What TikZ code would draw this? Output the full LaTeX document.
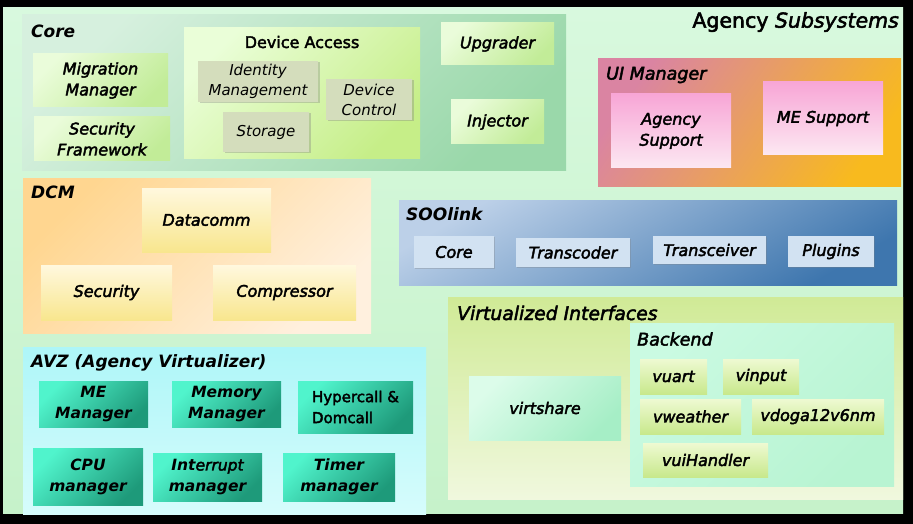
\documentclass[tikz,border=0pt]{standalone}
\usepackage{fontspec}
\setsansfont{DejaVu Sans}
\newfontfamily\headfont{DejaVu Sans}
\newfontface\medfont{DejaVu Sans Oblique}[FakeBold=2.5]
\newfontface\medup{DejaVu Sans}[FakeBold=2.5]
\usetikzlibrary{shadows}

\definecolor{bgtop}{HTML}{D8F9DE}
\definecolor{bgbot}{HTML}{C6F2CA}
\definecolor{coretop}{HTML}{D6F0DE}
\definecolor{corebot}{HTML}{9AD8AA}
\definecolor{leaftop}{HTML}{EAFCDA}
\definecolor{leafbot}{HTML}{C2EC98}
\definecolor{devtop}{HTML}{EAFED8}
\definecolor{devbot}{HTML}{C6EE88}
\definecolor{olivegray}{HTML}{D4DDBC}
\definecolor{uitop}{HTML}{DA84A2}
\definecolor{uimid}{HTML}{DE8E98}
\definecolor{uibot}{HTML}{F8BA1E}
\definecolor{pinktop}{HTML}{F8A6D6}
\definecolor{pinkbot}{HTML}{FCE8F2}
\definecolor{dcmtop}{HTML}{FFD690}
\definecolor{dcmbot}{HTML}{FFF0DE}
\definecolor{creamtop}{HTML}{FFF8DE}
\definecolor{creambot}{HTML}{F8E68E}
\definecolor{sootop}{HTML}{BCD0E8}
\definecolor{soobot}{HTML}{3E76AE}
\definecolor{sooleaf}{HTML}{D2E2F2}
\definecolor{vitop}{HTML}{D0EA96}
\definecolor{vibot}{HTML}{F0F8DE}
\definecolor{minttop}{HTML}{CAFAE2}
\definecolor{mintbot}{HTML}{B8F4D2}
\definecolor{vstop}{HTML}{DCFCEA}
\definecolor{vsbot}{HTML}{A6EEC6}
\definecolor{vtop}{HTML}{EEFAD2}
\definecolor{vbot}{HTML}{C8E88C}
\definecolor{avztop}{HTML}{AEF6F8}
\definecolor{avzbot}{HTML}{D6FCFC}
\definecolor{tealtop}{HTML}{50F4CC}
\definecolor{tealmid}{HTML}{40E6BC}
\definecolor{tealbot}{HTML}{1E9A7A}

\begin{document}
\begin{tikzpicture}[x=1pt, y=-1pt,
every node/.style={inner sep=0pt, align=center},
    sz/.style 2 args = {minimum width=#1pt, minimum height=#2pt},
    grad/.style n args = {3}{rectangle, top color=#1, bottom color=#2, shading angle=#3},
    title/.style = {anchor=west, font=\headfont\bfseries\itshape\fontsize{17}{19}\selectfont},
    subtitle/.style = {anchor=west, font=\medfont\fontsize{17.5}{20}\selectfont},
    item/.style = {font=\medfont\fontsize{16}{21}\selectfont},
    leaf/.style = {grad={leaftop}{leafbot}{45}, item},
    olivebox/.style = {rectangle, fill=olivegray, font=\headfont\itshape\fontsize{15}{20}\selectfont,
                 drop shadow={shadow xshift=1.5pt, shadow yshift=-1.5pt, opacity=.35}},
    pinkbox/.style = {grad={pinktop}{pinkbot}{0}, item},
    cream/.style = {grad={creamtop}{creambot}{0}, item},
    soobox/.style = {rectangle, fill=sooleaf, item,
                 drop shadow={shadow xshift=1pt, shadow yshift=-1pt, opacity=.3}},
    vbox/.style = {grad={vtop}{vbot}{0}, item},
    tealbox/.style = {rectangle, top color=tealtop, middle color=tealmid, bottom color=tealbot,
                 shading angle=45, font=\headfont\bfseries\itshape\fontsize{15.5}{21}\selectfont}
    ]
\useasboundingbox (0,0) rectangle (913,524);
\fill[black] (0,0) rectangle (913,524);
\node (Frame) [grad={bgtop}{bgbot}{0}, sz={900}{505}] at (453,260.5) {};
\node (Title) [anchor=east, font=\fontsize{20.5}{24}\selectfont] at (899,22)
        {\medup Agency \medfont Subsystems};

% Core
\node (Core)      [grad={coretop}{corebot}{45}, sz={544}{155}] at (294,92.5) {};
\node (CoreT)     [title] at (31,31) {Core};
\node (MigMgr)    [leaf, sz={135}{53}] at (100.5,80.5) {Migration\\Manager};
\node (SecFw)     [leaf, sz={136}{44}] at (102,139) {Security\\Framework};
\node (DevAccess) [grad={devtop}{devbot}{45}, sz={236}{131}] at (302,93.5) {};
\node (DevAccessT)[item, font=\medup\fontsize{16}{21}\selectfont] at (302,42) {Device Access};
\node (Identity)  [olivebox, sz={120}{41}] at (258,81.5) {Identity\\Management};
\node (DevCtrl)   [olivebox, sz={86}{41}] at (369,99.5) {Device\\Control};
\node (Storage)   [olivebox, sz={86}{40}] at (266,132) {Storage};
\node (Upgrader)  [leaf, sz={113}{42}] at (497.5,44) {Upgrader};
\node (Injector)  [leaf, sz={93}{44}] at (497.5,122) {Injector};

% UI Manager
\node (UIMgr)  [rectangle, top color=uitop, middle color=uimid, bottom color=uibot,
                shading angle=55, sz={303}{127}] at (749.5,122.5) {};
\node (UIMgrT) [subtitle] at (606,75) {UI Manager};
\node (AgSup)  [pinkbox, sz={120}{74}] at (671,131) {Agency\\Support};
\node (MESup)  [pinkbox, sz={120}{73}] at (823,118.5) {ME Support};

% DCM
\node (DCM)        [grad={dcmtop}{dcmbot}{45}, sz={348}{155}] at (197,255.5) {};
\node (DCMT)       [title] at (31,192) {DCM};
\node (Datacomm)   [cream, sz={129}{64}] at (206.5,220) {Datacomm};
\node (Security)   [cream, sz={131}{55}] at (106.5,292.5) {Security};
\node (Compressor) [cream, sz={143}{55}] at (284.5,292.5) {Compressor};

% SOOlink
\node (SOOlink)     [grad={sootop}{soobot}{30}, sz={498}{85}] at (648,242.5) {};
\node (SOOlinkT)    [title] at (406,214) {SOOlink};
\node (SCore)       [soobox, sz={80}{32}] at (454,252) {Core};
\node (Transcoder)  [soobox, sz={114}{29}] at (573,252.5) {Transcoder};
\node (Transceiver) [soobox, sz={113}{28}] at (709.5,250) {Transceiver};
\node (Plugins)     [soobox, sz={86}{31}] at (831,251.5) {Plugins};

% Virtualized Interfaces
\node (VirtIf)     [grad={vitop}{vibot}{0}, sz={455}{202}] at (675.5,398) {};
\node (VirtIfT)    [subtitle, font=\medfont\fontsize{18.8}{20}\selectfont] at (457,313)
        {Virtualized Interfaces};
\node (Backend)    [grad={minttop}{mintbot}{45}, sz={264}{163}] at (762,404.5) {};
\node (BackendT)   [subtitle] at (637,339) {Backend};
\node (Virtshare)  [grad={vstop}{vsbot}{45}, item, sz={152}{64}] at (545,408) {virtshare};
\node (Vuart)      [vbox, sz={67}{35}] at (673.5,376.5) {vuart};
\node (Vinput)     [vbox, sz={76}{35}] at (761,376.5) {vinput};
\node (Vweather)   [vbox, sz={101}{35}] at (690.5,416.5) {vweather};
\node (Vdoga)      [vbox, sz={132}{35}] at (818,416.5) {vdoga12v6nm};
\node (VuiHandler) [vbox, sz={125}{34}] at (705.5,460) {vuiHandler};

% AVZ
\node (AVZ)       [grad={avztop}{avzbot}{0}, sz={403}{167}] at (224.5,430.5) {};
\node (AVZT)      [title] at (31,363) {AVZ (Agency Virtualizer)};
\node (MEMgr)     [tealbox, sz={109}{46}] at (93.5,404) {ME\\Manager};
\node (MemMgr)    [tealbox, sz={109}{46}] at (226.5,404) {Memory\\Manager};
\node (Hyper)     [tealbox, sz={115}{52}, align=left,
                   font=\medup\fontsize{15}{21}\selectfont] at (355.5,407) {Hypercall \&\\Domcall};
\node (CPU)       [tealbox, sz={110}{57}] at (88,476.5) {CPU\\manager};
\node (Interrupt) [tealbox, sz={109}{48}] at (207.5,477) {Int{\medfont errupt}\\manager};
\node (Timer)     [tealbox, sz={112}{48}] at (339,477) {Timer\\manager};
\end{tikzpicture}
\end{document}
